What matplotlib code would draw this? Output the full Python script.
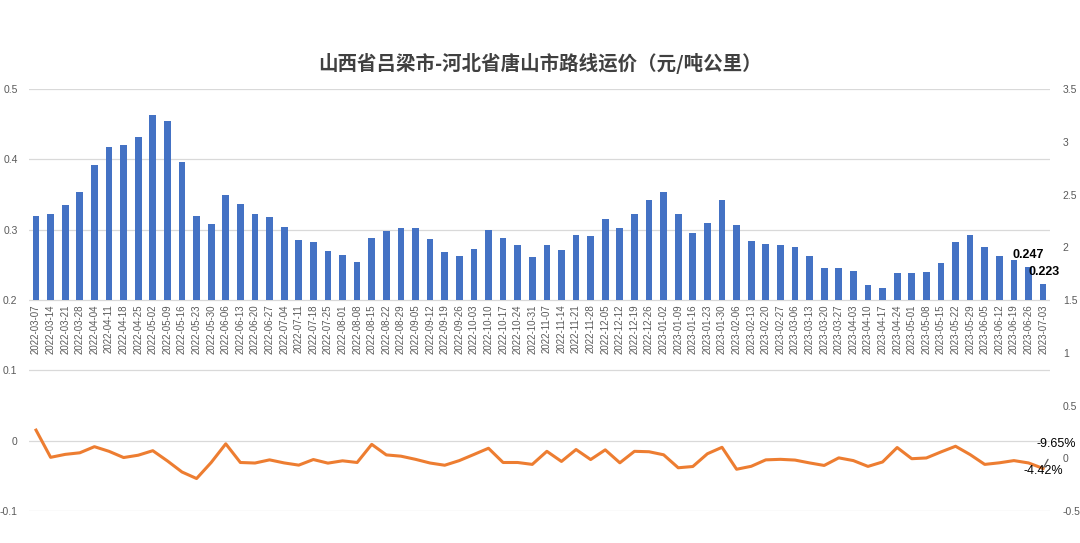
import matplotlib
matplotlib.use("Agg")
import matplotlib.pyplot as plt

plt.rcParams['font.family'] = ['Liberation Sans', 'Noto Sans CJK SC', 'DejaVu Sans']

# weekly dates (category axis)
dates = [
    '2022-03-07', '2022-03-14', '2022-03-21', '2022-03-28', '2022-04-04', '2022-04-11',
    '2022-04-18', '2022-04-25', '2022-05-02', '2022-05-09', '2022-05-16', '2022-05-23',
    '2022-05-30', '2022-06-06', '2022-06-13', '2022-06-20', '2022-06-27', '2022-07-04',
    '2022-07-11', '2022-07-18', '2022-07-25', '2022-08-01', '2022-08-08', '2022-08-15',
    '2022-08-22', '2022-08-29', '2022-09-05', '2022-09-12', '2022-09-19', '2022-09-26',
    '2022-10-03', '2022-10-10', '2022-10-17', '2022-10-24', '2022-10-31', '2022-11-07',
    '2022-11-14', '2022-11-21', '2022-11-28', '2022-12-05', '2022-12-12', '2022-12-19',
    '2022-12-26', '2023-01-02', '2023-01-09', '2023-01-16', '2023-01-23', '2023-01-30',
    '2023-02-06', '2023-02-13', '2023-02-20', '2023-02-27', '2023-03-06', '2023-03-13',
    '2023-03-20', '2023-03-27', '2023-04-03', '2023-04-10', '2023-04-17', '2023-04-24',
    '2023-05-01', '2023-05-08', '2023-05-15', '2023-05-22', '2023-05-29', '2023-06-05',
    '2023-06-12', '2023-06-19', '2023-06-26', '2023-07-03',
]

# freight rate (yuan / ton-km), left axis
price = [
    0.320, 0.323, 0.335, 0.353, 0.392, 0.417, 0.420, 0.432, 0.463, 0.455,
    0.396, 0.320, 0.308, 0.350, 0.337, 0.323, 0.318, 0.304, 0.285, 0.283,
    0.270, 0.264, 0.254, 0.288, 0.298, 0.303, 0.302, 0.287, 0.268, 0.262,
    0.272, 0.299, 0.288, 0.278, 0.261, 0.279, 0.271, 0.293, 0.291, 0.315,
    0.302, 0.322, 0.342, 0.353, 0.322, 0.296, 0.309, 0.342, 0.307, 0.284,
    0.280, 0.279, 0.275, 0.262, 0.245, 0.246, 0.241, 0.222, 0.217, 0.239,
    0.239, 0.240, 0.253, 0.283, 0.292, 0.275, 0.262, 0.257, 0.247, 0.223,
]

# week-on-week change, right axis
change = [
    0.267, 0.009, 0.037, 0.052, 0.110, 0.066, 0.007, 0.029, 0.072, -0.025,
    -0.130, -0.192, -0.040, 0.137, -0.040, -0.045, -0.015, -0.044, -0.065, -0.012,
    -0.046, -0.024, -0.040, 0.132, 0.032, 0.020, -0.010, -0.045, -0.066, -0.022,
    0.036, 0.095, -0.040, -0.040, -0.058, 0.066, -0.030, 0.083, -0.012, 0.080,
    -0.043, 0.066, 0.062, 0.033, -0.090, -0.078, 0.043, 0.104, -0.104, -0.076,
    -0.015, -0.010, -0.017, -0.044, -0.068, 0.004, -0.022, -0.077, -0.035, 0.102,
    -0.004, 0.003, 0.060, 0.114, 0.035, -0.058, -0.043, -0.022, -0.0442, -0.0965,
]

left_ticks = [-0.1, 0, 0.1, 0.2, 0.3, 0.4, 0.5]
left_labels = ['-0.1', '0', '0.1', '0.2', '0.3', '0.4', '0.5']
right_ticks = [-0.5, 0, 0.5, 1, 1.5, 2, 2.5, 3, 3.5]
right_labels = ['-0.5', '0', '0.5', '1', '1.5', '2', '2.5', '3', '3.5']

title = '山西省吕梁市-河北省唐山市路线运价（元/吨公里）'

bar_color = '#4472C4'
line_color = '#ED7D31'
text_grey = '#595959'
base = 0.2

fig = plt.figure(figsize=(10.8, 5.43), dpi=100)
ax = fig.add_axes([0.0266, 0.0589, 0.946, 0.777])
x = list(range(len(dates)))

ax.bar(x, [v - base for v in price], bottom=base, width=0.46, color=bar_color, zorder=2)
ax.set_xlim(-0.5, len(dates) - 0.5)
ax.set_ylim(-0.1, 0.5)
ax.set_yticks(left_ticks)
ax.set_yticklabels(left_labels)
ax.yaxis.grid(True, color='#D9D9D9', linewidth=0.9, zorder=0)
ax.set_axisbelow(True)
for s in ax.spines.values():
    s.set_visible(False)
ax.spines['bottom'].set_position(('data', base))
ax.set_xticks(x)
ax.set_xticklabels(dates, rotation=90, fontsize=7, color=text_grey)
ax.tick_params(axis='x', length=0, pad=3)
ax.tick_params(axis='y', length=0, pad=8, labelsize=7.5, labelcolor=text_grey)

ax.text(x[-2], price[-2] + 0.008, '0.247', ha='center', va='bottom',
        fontsize=9, fontweight='bold', color='black')
ax.text(x[-1] + 0.1, price[-1] + 0.017, '0.223', ha='center', va='center',
        fontsize=9, fontweight='bold', color='black')

ax2 = ax.twinx()
ax2.plot(x, change, color=line_color, linewidth=2.2, solid_joinstyle='round', zorder=3)
ax2.set_ylim(-0.5, 3.5)
ax2.set_yticks(right_ticks)
ax2.set_yticklabels(right_labels)
ax2.tick_params(axis='y', length=0, pad=9, labelsize=7.5, labelcolor=text_grey)
for s in ax2.spines.values():
    s.set_visible(False)

ax2.annotate('-9.65%', xy=(x[-1], change[-1]), xytext=(13, 24), textcoords='offset pixels',
             ha='center', va='center', fontsize=9, color='black',
             arrowprops=dict(arrowstyle='-', color='#595959', lw=0.9, shrinkA=5, shrinkB=1))
ax2.annotate('-4.42%', xy=(x[-2], change[-2]), xytext=(15, -8), textcoords='offset pixels',
             ha='center', va='center', fontsize=9, color='black')

fig.text(0.5, 1 - 63.5 / 543, title, ha='center', va='center', fontsize=14,
         fontweight='bold', color='#404040', family=['Noto Sans CJK SC', 'DejaVu Sans'])

fig.savefig('out.png', dpi=100)
